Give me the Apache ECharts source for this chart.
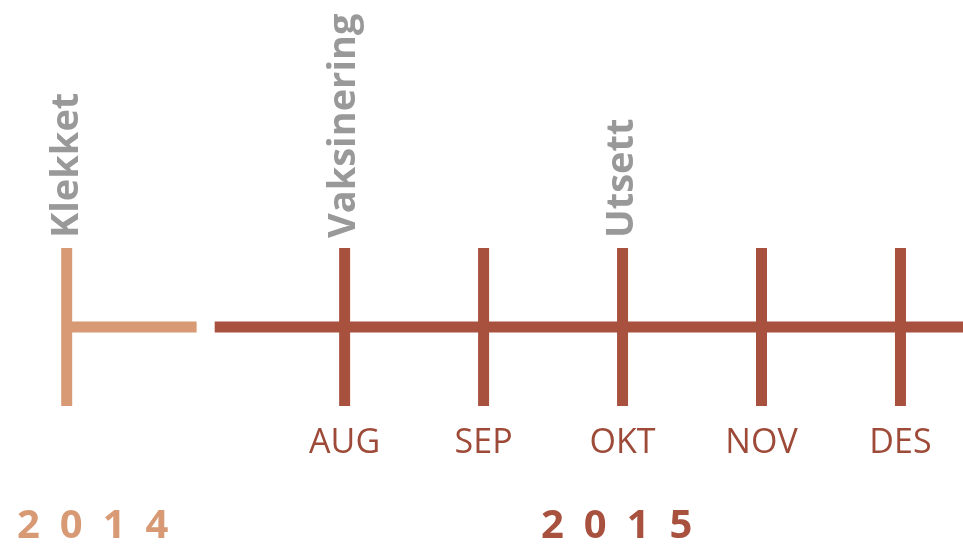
<!DOCTYPE html>
<html>
<head>
<meta charset="utf-8">
<script src="https://cdn.jsdelivr.net/npm/echarts@6/dist/echarts.min.js"></script>
<style>
  html, body { margin: 0; padding: 0; background: #fff; }
  #chart { width: 963px; height: 546px; }
</style>
</head>
<body>
<div id="chart"></div>
<script>
// month positions on the time axis (Jun = 6 ... Des = 12)
const months = ['AUG', 'SEP', 'OKT', 'NOV', 'DES'];
const monthPos = [8, 9, 10, 11, 12];
const events = ['Klekket', 'Vaksinering', 'Utsett'];
const eventPos = [6, 8, 10];
const years = ['2014', '2015'];
// the two pieces of the base line (2014 part, 2015 part)
const seg2014 = [6, 6.935];
const seg2015 = [7.065, 12.45];

const light = '#d89a74';
const dark = '#a8513f';
const grey = '#808080';

const chart = echarts.init(document.getElementById('chart'));

const series = [];
series.push({
  type: 'line', data: seg2014.map(x => [x, 0]), symbol: 'none',
  lineStyle: { color: light, width: 11, cap: 'butt' }, silent: true
});
series.push({
  type: 'line', data: seg2015.map(x => [x, 0]), symbol: 'none',
  lineStyle: { color: dark, width: 11, cap: 'butt' }, silent: true
});
// vertical ticks
const ticks = [6].concat(monthPos);
ticks.forEach(x => {
  series.push({
    type: 'line', data: [[x, -1], [x, 1]], symbol: 'none',
    lineStyle: { color: x < 7 ? light : dark, width: 11, cap: 'butt' }, silent: true
  });
});
// event labels
series.push({
  type: 'scatter', symbolSize: 0, silent: true,
  data: eventPos.map((x, i) => ({ value: [x, 1], name: events[i] })),
  label: {
    show: true, position: 'top', distance: 10, rotate: 90,
    align: 'left', verticalAlign: 'middle',
    formatter: p => p.name,
    color: grey, fontFamily: 'Open Sans', fontWeight: 'bold', fontSize: 38
  }
});

const yearText = y => y.split('').join('\u2002');

chart.setOption({
  animation: false,
  grid: { left: 0, right: 0, top: 248, bottom: 140 },
  xAxis: {
    type: 'value', min: 5.52, max: 12.45,
    axisLine: { show: false }, axisTick: { show: false }, splitLine: { show: false },
    axisLabel: {
      customValues: monthPos,
      formatter: v => months[monthPos.indexOf(v)] || '',
      margin: 20, color: '#9e4a38', fontFamily: 'Open Sans', fontSize: 34
    }
  },
  yAxis: { type: 'value', min: -1, max: 1, show: false },
  graphic: [
    { type: 'text', left: 17, top: 507,
      style: { text: yearText(years[0]), fill: light, font: 'bold 40px "Open Sans"' } },
    { type: 'text', left: 541, top: 507,
      style: { text: yearText(years[1]), fill: dark, font: 'bold 40px "Open Sans"' } }
  ],
  series: series
});
</script>
</body>
</html>
